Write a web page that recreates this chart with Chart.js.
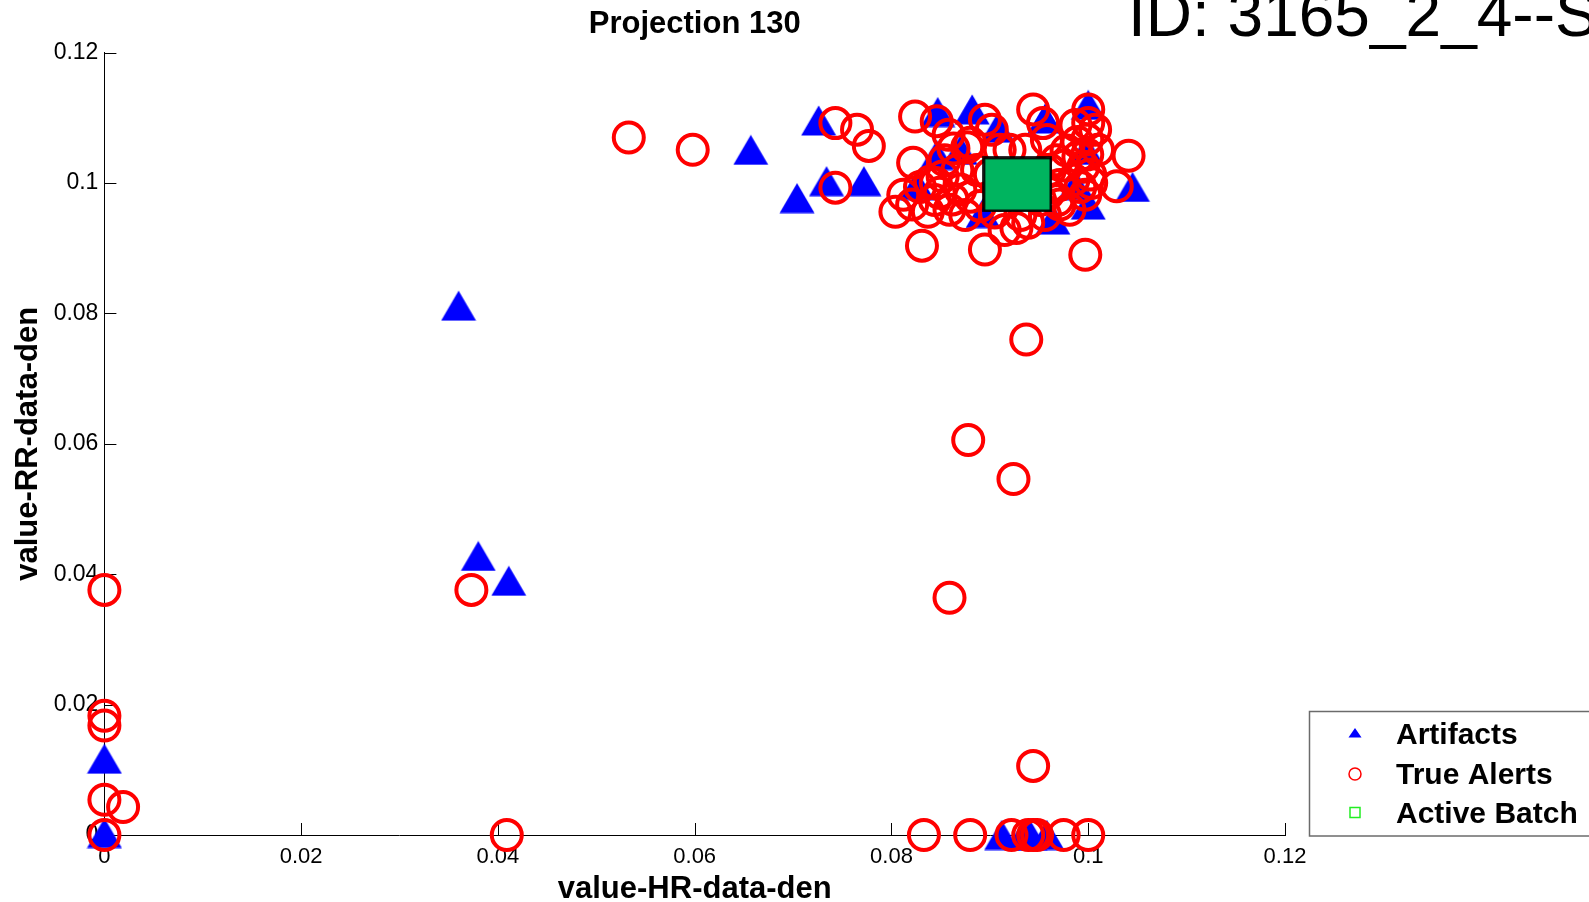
<!DOCTYPE html>
<html>
<head>
<meta charset="utf-8">
<script src="https://cdn.jsdelivr.net/npm/chart.js@4.4.1/dist/chart.umd.min.js"></script>
<style>
  html, body { margin: 0; padding: 0; background: #fff; }
  #wrap { width: 1589px; height: 902px; }
</style>
</head>
<body>
<div id="wrap"><canvas id="scatter" width="1589" height="902"></canvas></div>
<script>
// Data
const artifactX = [0.0360, 0.0380, 0.0411, 0, 0, 0.0657, 0.0704, 0.0726, 0.0734, 0.0772,
    0.0826, 0.0846, 0.0847, 0.0870, 0.0882, 0.0893, 0.0908, 0.0956, 0.0964, 0.0987,
    0.0998, 0.1000, 0.1000, 0.1045, 0.0912, 0.0934, 0.0941, 0.0958];
const artifactY = [0.0812, 0.0428, 0.0390, 0.0117, 0.0003, 0.1051, 0.0977, 0.1096, 0.1003, 0.1003,
    0.0997, 0.1043, 0.1109, 0.1051, 0.1113, 0.0954, 0.1085, 0.1099, 0.0944, 0.0997,
    0.1051, 0.1120, 0.0967, 0.0994, 0, 0, 0, 0];

const alertX = [0.0533, 0.0598, 0.0373, 0, 0, 0, 0, 0.0019, 0, 0.0409,
    0.0937, 0.0878, 0.0924, 0.0859, 0.0944,
    0.0833, 0.0880, 0.0922, 0.0939, 0.0944, 0.0948, 0.0975, 0.1000,
    0.0743, 0.0765, 0.0777, 0.0743,
    0.0824, 0.0846, 0.0858, 0.0822, 0.0895, 0.0902, 0.0944, 0.0954, 0.1000, 0.1000,
    0.1041, 0.1029, 0.0804, 0.0812, 0.0837, 0.0831, 0.0895, 0.0997, 0.0927, 0.0939,
    0.0863, 0.0877, 0.0839, 0.0852, 0.0870, 0.0880, 0.0887, 0.0867, 0.0829, 0.0849,
    0.0880, 0.0915, 0.0958, 0.0992, 0.0969, 0.0989, 0.0995, 0.0999, 0.0999, 0.1002,
    0.0997, 0.0976, 0.0981, 0.0910, 0.0859, 0.0971, 0.0956, 0.0920, 0.0936, 0.0900,
    0.0987, 0.0961, 0.0821, 0.0875, 0.0951, 0.0844, 0.0854, 0.0910, 0.1007, 0.1010,
    0.0971, 0.0931, 0.0845, 0.0862, 0.0890, 0.0905, 0.0985, 0.0990, 0.0978, 0.0968,
    0.1003, 0.0960];
const alertY = [0.1070, 0.1051, 0.0376, 0.0376, 0.0183, 0.0168, 0.0054, 0.0043, 0, 0,
    0.0760, 0.0606, 0.0546, 0.0364, 0.0106,
    0, 0, 0, 0, 0, 0, 0, 0,
    0.1092, 0.1082, 0.1057, 0.0993,
    0.1102, 0.1095, 0.1074, 0.1031, 0.1097, 0.1082, 0.1113, 0.1092, 0.1113, 0.1092,
    0.1042, 0.0995, 0.0956, 0.0982, 0.0956, 0.0904, 0.0898, 0.0890, 0.0931, 0.0939,
    0.1053, 0.1055, 0.1002, 0.1010, 0.0990, 0.0979, 0.1020, 0.1020, 0.0994, 0.0985,
    0.1062, 0.0928, 0.1066, 0.0994, 0.0974, 0.1063, 0.1025, 0.1067, 0.1044, 0.1013,
    0.0982, 0.1027, 0.0959, 0.0982, 0.0959, 0.0997, 0.0951, 0.1051, 0.1051, 0.1013,
    0.1089, 0.1020, 0.0967, 0.0951, 0.0974, 0.0974, 0.1035, 0.1051, 0.1082, 0.1051,
    0.0967, 0.0951, 0.1000, 0.0975, 0.0965, 0.0955, 0.1005, 0.1040, 0.1050, 0.1035,
    0.1000, 0.0985];

const batchX = [0.0928];
const batchY = [0.0998];

const seriesLabels = ['Artifacts', 'True Alerts', 'Active Batch'];
const xTicks = [0, 0.02, 0.04, 0.06, 0.08, 0.1, 0.12];
const yTicks = [0, 0.02, 0.04, 0.06, 0.08, 0.1, 0.12];
const tickLabels = ['0', '0.02', '0.04', '0.06', '0.08', '0.1', '0.12'];

const FONT = '"Liberation Sans", Arial, sans-serif';

function toPoints(xs, ys) {
    return xs.map((x, i) => ({ x: x, y: ys[i] }));
}

// Marker images (centred on the point like MATLAB markers)
function makeMarker(w, h, draw) {
    const c = document.createElement('canvas');
    c.width = w;
    c.height = h;
    draw(c.getContext('2d'), w, h);
    return c;
}

const triangleMarker = makeMarker(36, 31, (ctx, w, h) => {
    ctx.fillStyle = '#0000ff';
    ctx.beginPath();
    ctx.moveTo(w / 2, 0.5);
    ctx.lineTo(w - 0.5, h - 0.5);
    ctx.lineTo(0.5, h - 0.5);
    ctx.closePath();
    ctx.fill();
});

const batchMarker = makeMarker(70, 56, (ctx, w, h) => {
    ctx.fillStyle = 'rgb(0,180,95)';
    ctx.fillRect(1.5, 1.5, w - 3, h - 3);
    ctx.strokeStyle = '#000';
    ctx.lineWidth = 2.6;
    ctx.strokeRect(1.5, 1.5, w - 3, h - 3);
});

// Inward tick marks, title, ID text and legend box
const matlabDecor = {
    id: 'matlabDecor',
    beforeDatasetsDraw(chart) {
        const ctx = chart.ctx;
        const xs = chart.scales.x;
        const ys = chart.scales.y;
        const area = chart.chartArea;
        ctx.save();
        ctx.strokeStyle = '#000';
        ctx.lineWidth = 1;
        ctx.beginPath();
        xTicks.forEach(v => {
            const px = Math.round(xs.getPixelForValue(v)) + 0.5;
            ctx.moveTo(px, area.bottom);
            ctx.lineTo(px, area.bottom - 12);
        });
        yTicks.forEach(v => {
            const py = Math.round(ys.getPixelForValue(v)) + 0.5;
            ctx.moveTo(area.left, py);
            ctx.lineTo(area.left + 12, py);
        });
        ctx.stroke();
        ctx.restore();
    },
    afterDraw(chart) {
        const ctx = chart.ctx;
        const area = chart.chartArea;
        ctx.save();

        // title
        ctx.fillStyle = '#000';
        ctx.font = 'bold 31px ' + FONT;
        ctx.textAlign = 'center';
        ctx.textBaseline = 'alphabetic';
        ctx.fillText('Projection 130', (area.left + area.right) / 2, 33);

        // big id text, cut off at the top and right like the original
        ctx.font = '64px ' + FONT;
        ctx.textAlign = 'left';
        ctx.fillText('ID: 3165_2_4--S', 1128, 36);

        // legend
        const bx = 1309, by = 711;
        ctx.fillStyle = '#fff';
        ctx.fillRect(bx, by, 300, 125);
        ctx.strokeStyle = '#6b6b6b';
        ctx.lineWidth = 1.5;
        ctx.strokeRect(bx + 0.5, by + 0.5, 300, 124.5);

        const mx = 1355;
        const rows = [733, 774, 812.5];
        // triangle
        ctx.fillStyle = '#0000ff';
        ctx.beginPath();
        ctx.moveTo(mx, rows[0] - 5);
        ctx.lineTo(mx + 6.5, rows[0] + 4.5);
        ctx.lineTo(mx - 6.5, rows[0] + 4.5);
        ctx.closePath();
        ctx.fill();
        // circle
        ctx.strokeStyle = '#ff0000';
        ctx.lineWidth = 1.5;
        ctx.beginPath();
        ctx.arc(mx, rows[1], 6, 0, Math.PI * 2);
        ctx.stroke();
        // square
        ctx.strokeStyle = '#22ee22';
        ctx.strokeRect(mx - 5, rows[2] - 5, 10, 10);

        ctx.fillStyle = '#000';
        ctx.font = 'bold 30px ' + FONT;
        ctx.textAlign = 'left';
        ctx.textBaseline = 'alphabetic';
        const baselines = [744, 784, 823];
        seriesLabels.forEach((t, i) => ctx.fillText(t, 1396, baselines[i]));
        ctx.restore();
    }
};

const ctx = document.getElementById('scatter').getContext('2d');
new Chart(ctx, {
    type: 'scatter',
    data: {
        datasets: [{
            label: seriesLabels[0],
            data: toPoints(artifactX, artifactY),
            pointStyle: triangleMarker,
            pointRadius: 15,
            order: 3,
            clip: false
        }, {
            label: seriesLabels[1],
            data: toPoints(alertX, alertY),
            pointStyle: 'circle',
            pointRadius: 15,
            borderWidth: 4,
            borderColor: '#ff0000',
            backgroundColor: 'rgba(0,0,0,0)',
            order: 2,
            clip: false
        }, {
            label: seriesLabels[2],
            data: toPoints(batchX, batchY),
            pointStyle: batchMarker,
            pointRadius: 30,
            order: 1,
            clip: false
        }]
    },
    plugins: [matlabDecor],
    options: {
        responsive: false,
        animation: false,
        events: [],
        layout: {
            padding: { top: 52.7, right: 304, left: 0, bottom: 0 }
        },
        plugins: {
            legend: { display: false },
            title: { display: false },
            tooltip: { enabled: false }
        },
        scales: {
            x: {
                type: 'linear',
                min: 0,
                max: 0.12,
                afterFit: (scale) => { scale.height = 67; },
                afterBuildTicks: (scale) => { scale.ticks = xTicks.map(v => ({ value: v })); },
                grid: { display: true, drawOnChartArea: false, drawTicks: false },
                border: { display: true, color: '#000', width: 1 },
                ticks: {
                    padding: 9,
                    color: '#000',
                    font: { family: FONT, size: 22 },
                    maxRotation: 0,
                    callback: (v) => tickLabels[xTicks.indexOf(v)]
                },
                title: {
                    display: true,
                    text: 'value-HR-data-den',
                    color: '#000',
                    font: { family: FONT, size: 31, weight: 'bold', lineHeight: 1 },
                    padding: { top: 0, bottom: -2.5 }
                }
            },
            y: {
                type: 'linear',
                min: 0,
                max: 0.12,
                afterFit: (scale) => { scale.width = 104.4; },
                afterBuildTicks: (scale) => { scale.ticks = yTicks.map(v => ({ value: v })); },
                grid: { display: true, drawOnChartArea: false, drawTicks: false },
                border: { display: true, color: '#000', width: 1 },
                ticks: {
                    padding: 6,
                    color: '#000',
                    font: { family: FONT, size: 23 },
                    callback: (v) => tickLabels[yTicks.indexOf(v)]
                },
                title: {
                    display: true,
                    text: 'value-RR-data-den',
                    color: '#000',
                    font: { family: FONT, size: 31, weight: 'bold', lineHeight: 1 },
                    padding: { top: 13, bottom: 0 }
                }
            }
        }
    }
});
</script>
</body>
</html>
